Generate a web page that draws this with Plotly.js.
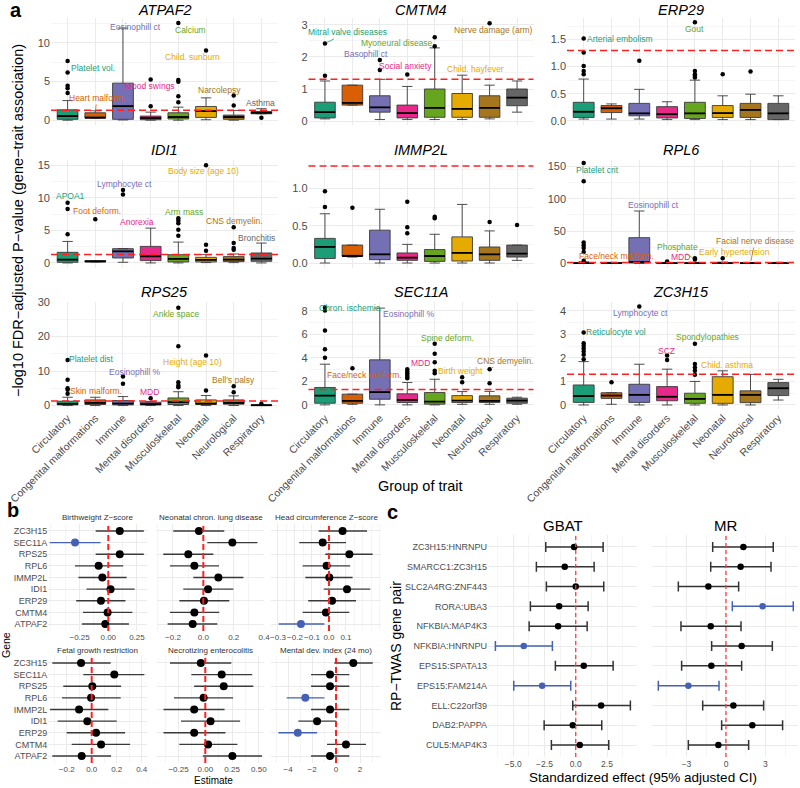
<!DOCTYPE html>
<html><head><meta charset="utf-8">
<script src="https://cdn.plot.ly/plotly-3.0.1.min.js"></script>
<style>body{margin:0;background:#fff}#plot{width:800px;height:788px}</style>
</head><body><div id="plot"></div>
<script>
// ---------------- Panel a data ----------------
const groups = ['Circulatory','Congenital malformations','Immune','Mental disorders','Musculoskeletal','Neonatal','Neurological','Respiratory'];
const groupColors = ['#1B9E77','#D95F02','#7570B3','#E7298A','#66A61E','#E6AB02','#A6761D','#666666'];
const genesA = ['ATPAF2','CMTM4','ERP29','IDI1','IMMP2L','RPL6','RPS25','SEC11A','ZC3H15'];
const boxLo = [
 [0.02,0.3,0.05,0.02,0.02,0.08,0.02,0.85],
 [0.07,0.5,0.05,0.05,0.05,0.05,0.07,0.28],
 [0.03,0.03,0.03,0.02,0.02,0.02,0.02,0.02],
 [0,0.15,0.1,0,0,0.05,0.05,0],
 [0,0.08,0,0,0,0,0,0.036],
 [0,0,0,0,0,0,0,0],
 [0,0,0,0,0,0,0,0],
 [0,0.05,0,0,0,0.05,0.05,0.05],
 [0,0.03,0,0,0,0,0,0.21]
];
const boxQ1 = [
 [0.13,0.3,0.13,0.08,0.17,0.38,0.13,0.85],
 [0.1,0.5,0.28,0.1,0.12,0.12,0.12,0.48],
 [0.06,0.15,0.09,0.05,0.04,0.06,0.06,0.02],
 [0.1,0.15,0.76,0.36,0.15,0.15,0.2,0.25],
 [0.06,0.09,0.045,0.036,0.022,0.027,0.036,0.08],
 [0.05,0.1,1.0,0.05,0.05,0.1,0.05,0.1],
 [0.2,0.3,0.2,0.2,0.3,0.3,0.39,0.0],
 [0.14,0.14,0.48,0.2,0.06,0.2,0.2,0.14],
 [0.11,0.28,0.11,0.18,0.07,0.07,0.1,0.4]
];
const boxMed = [
 [0.55,0.34,1.83,0.3,0.43,1.19,0.43,0.98],
 [0.28,0.57,0.43,0.25,0.41,0.38,0.41,0.73],
 [0.165,0.23,0.135,0.12,0.135,0.14,0.2,0.135],
 [0.5,0.25,1.78,1.02,0.61,0.46,0.5,0.66],
 [0.215,0.094,0.117,0.072,0.094,0.135,0.117,0.126],
 [0.3,0.3,1.6,0.2,0.2,0.3,0.2,0.3],
 [0.5,0.77,0.58,0.39,0.97,0.58,0.77,0.1],
 [0.79,0.34,1.08,0.43,0.28,0.37,0.34,0.37],
 [0.38,0.4,0.43,0.35,0.26,0.43,0.43,0.71]
];
const boxQ3 = [
 [1.36,0.98,4.8,0.55,0.98,1.79,0.68,1.15],
 [0.59,1.12,0.79,0.5,1.0,0.86,0.79,1.0],
 [0.34,0.28,0.32,0.26,0.34,0.28,0.32,0.32],
 [1.63,0.36,2.19,2.54,1.27,0.86,0.97,1.53],
 [0.33,0.24,0.44,0.135,0.18,0.35,0.215,0.24],
 [1.0,0.8,39.7,0.6,0.6,0.8,0.6,0.8],
 [1.26,1.64,1.45,0.97,2.2,1.64,1.64,0.2],
 [1.48,0.91,3.83,0.94,1.05,0.79,0.77,0.57],
 [0.85,0.52,0.88,0.78,0.5,1.2,0.6,0.95]
];
const boxHi = [
 [2.55,1.23,11.9,1.06,1.7,2.9,1.28,1.5],
 [1.25,1.12,1.3,1.08,2.28,1.43,1.12,1.25],
 [0.77,0.31,0.58,0.35,0.75,0.46,0.49,0.46],
 [3.3,0.36,2.19,5.34,3.2,1.27,1.37,3.05],
 [0.66,0.24,0.72,0.25,0.385,0.785,0.43,0.24],
 [2.5,1.5,81,1.3,1.5,1.8,1.2,1.5],
 [2.4,2.4,2.6,1.2,4.0,2.9,2.8,0.25],
 [3.46,0.91,8.23,1.9,2.18,1.13,1.15,0.65],
 [1.84,0.52,1.73,1.52,1.0,1.45,1.3,1.09]
];
// outliers: [group index, value]
const outliers = [
 [[0,7.66],[0,6.17],[0,4.47],[0,4.13],[0,3.53],[3,1.83],[3,5.28],[4,2.34],[4,3.1],[4,4.98],[4,5.19],[4,12.55],[5,9.0],[6,1.9],[6,3.2],[7,0.34]],
 [[0,1.41],[0,2.42],[2,1.59],[2,1.9],[3,1.45],[4,2.33],[4,2.61],[6,3.05]],
 [[0,0.86],[0,0.92],[0,1.01],[0,1.26],[0,1.52],[2,1.11],[4,0.8],[4,0.83],[4,0.86],[4,0.92],[4,1.82],[5,0.86],[6,0.91]],
 [[0,4.42],[0,8.29],[0,9.25],[1,6.71],[2,10.5],[2,11.2],[4,4.17],[4,5.08],[4,6.1],[4,6.46],[4,6.86],[5,1.88],[5,2.8],[5,15.0],[6,2.03],[6,2.29],[6,3.05],[6,5.49]],
 [[0,0.75],[0,0.96],[1,0.74],[3,0.4],[3,0.48],[3,0.82],[4,0.6],[4,0.62],[6,0.55],[7,0.51]],
 [[0,4],[0,17.5],[0,23.8],[0,28],[0,32.3],[0,127.2],[0,155.3],[3,2.6],[4,5.8],[4,8],[5,8]],
 [[0,3.4],[0,4.6],[0,5.0],[0,7.5],[0,13.2],[2,6.3],[2,8.4],[3,2.1],[4,5.3],[4,5.8],[4,6.76],[4,17.2],[4,28.3],[5,4.35],[5,14.5],[6,3.86],[6,5.6],[7,0.5]],
 [[0,4.0],[0,4.74],[0,6.33],[0,8.03],[0,8.28],[1,3.12],[3,2.27],[3,2.4],[3,2.55],[3,2.7],[3,2.84],[3,3.04],[4,2.7],[4,2.9],[4,3.63],[4,4.34],[4,5.19],[5,1.93],[5,2.35],[6,1.84],[6,3.04]],
 [[0,1.94],[0,2.13],[0,2.27],[0,2.4],[0,2.51],[0,2.62],[0,3.08],[1,0.96],[2,4.18],[3,1.91],[3,2.1],[4,1.28],[4,1.45],[4,1.59],[4,1.74],[4,2.6]]
];
// trait labels: [text, group, labelX, labelY, (pointX, pointY for leader)]
const traitLabels = [
 [['Platelet vol.',0,0.9,6.7],['Heart malform.',1,1.06,2.9,1,1.05],['Eosinophill ct',2,2.45,12.1],['Mood swings',3,2.97,4.45],['Calcium',4,4.44,11.7],['Child. sunburn',5,4.51,8.2],['Narcolepsy',6,5.5,3.96],['Asthma',7,6.98,2.25]],
 [['Mitral valve diseases',0,0.81,2.76,0,2.42],['Basophill ct',2,1.51,2.1],['Social anxiety',3,2.95,1.72],['Myoneural disease',4,2.62,2.44],['Child. hayfever',5,5.49,1.61],['Nerve damage (arm)',6,6.14,2.85]],
 [['Arterial embolism',0,1.29,1.52],['Gout',4,4.0,1.7]],
 [['APOA1',0,0.1,10.2],['Foot deform.',1,1.07,8.0],['Lymphocyte ct',2,2.07,12.05],['Anorexia',3,2.52,6.25],['Arm mass',4,4.21,7.78],['Body size (age 10)',5,4.92,14.1],['CNS demyelin.',6,6.04,6.46],['Bronchitis',7,6.83,3.9]],
 [],
 [['Platelet crit',0,0.49,144.7],['Face/neck malform.',1,1.19,11.1],['Eosinophill ct',2,2.5,90.6],['MDD',3,3.49,9.5],['Phosphate',4,3.38,25.4,4,5.8],['Early hypertension',5,5.44,17.5],['Facial nerve disease',6,6.16,34.4,6,0.6]],
 [['Platelet dist',0,0.87,13.5],['Skin malform.',1,1.03,4.35],['Eosinophill %',2,2.43,9.85],['MDD',3,2.97,3.86],['Ankle space',4,3.95,26.6],['Height (age 10)',5,4.52,12.56],["Bell's palsy",6,6.0,7.44]],
 [['Chron. ischemia',0,0.93,8.28],['Face/neck malform.',1,1.45,2.55],['Eosinophill %',2,3.06,7.72],['MDD',3,3.47,3.55],['Spine deform.',4,4.46,5.67],['Birth weight',5,4.93,2.84],['CNS demyelin.',6,6.57,3.77,6,3.04]],
 [['Reticulocyte vol',0,1.17,3.08],['Lymphocyte ct',2,2.03,3.9],['SCZ',3,2.99,2.3],['Spondylopathies',4,4.46,2.87],['Child. asthma',5,5.17,1.7]]
];
const fdrThreshold = 1.3;

// ---------------- Panel b data ----------------
const genesB = ['ATPAF2','CMTM4','ERP29','IDI1','IMMP2L','RPL6','RPS25','SEC11A','ZC3H15'];
const outcomesB = ['Birthweight Z\u2212score','Neonatal chron. lung disease','Head circumference Z\u2212score','Fetal growth restriction','Necrotizing enterocolitis','Mental dev. index (24 mo)'];
const estB = [
 [-0.026,-0.006,-0.064,0.02,-0.052,-0.084,0.10,-0.29,0.10],
 [-0.07,-0.059,0.004,0.031,0.099,-0.059,-0.099,0.191,-0.029],
 [-0.165,-0.018,0.018,0.106,0.002,-0.014,0.12,-0.037,0.08],
 [-0.08,0.075,0.035,-0.035,-0.101,-0.005,0.005,0.181,-0.085],
 [0.253,0.026,-0.104,0.049,-0.104,-0.016,0.172,0.153,-0.042],
 [-0.5,0.83,-3.19,-1.58,-0.5,-2.56,-0.5,-0.5,1.44]
];
const loB = [
 [-0.23,-0.22,-0.28,-0.19,-0.26,-0.29,-0.11,-0.51,-0.11],
 [-0.235,-0.22,-0.158,-0.132,-0.066,-0.22,-0.264,0.026,-0.198],
 [-0.296,-0.155,-0.122,-0.031,-0.139,-0.155,-0.022,-0.175,-0.061],
 [-0.315,-0.16,-0.2,-0.272,-0.333,-0.237,-0.227,-0.067,-0.315],
 [-0.023,-0.243,-0.39,-0.227,-0.39,-0.292,-0.104,-0.13,-0.33],
 [-2.08,-0.75,-4.8,-3.14,-2.08,-4.11,-2.08,-2.08,-0.14]
];
const hiB = [
 [0.18,0.21,0.15,0.23,0.16,0.13,0.31,-0.067,0.31],
 [0.092,0.105,0.171,0.198,0.264,0.103,0.066,0.356,0.138],
 [-0.027,0.12,0.159,0.243,0.139,0.125,0.257,0.1,0.224],
 [0.155,0.307,0.267,0.2,0.133,0.232,0.235,0.421,0.152],
 [0.53,0.3,0.188,0.325,0.18,0.26,0.448,0.438,0.243],
 [1.11,2.5,-1.58,0,1.11,-0.97,1.11,1.11,3.06]
];
const sigB = [
 [0,0,0,0,0,0,0,1,0],
 [0,0,0,0,0,0,0,0,0],
 [1,0,0,0,0,0,0,0,0],
 [0,0,0,0,0,0,0,0,0],
 [0,0,0,0,0,0,0,0,0],
 [0,0,1,0,0,1,0,0,0]
];

// ---------------- Panel c data ----------------
const pairsC = ['ZC3H15:HNRNPU','SMARCC1:ZC3H15','SLC2A4RG:ZNF443','RORA:UBA3','NFKBIA:MAP4K3','NFKBIA:HNRNPU','EPS15:SPATA13','EPS15:FAM214A','ELL:C22orf39','DAB2:PAPPA','CUL5:MAP4K3'];
const methodsC = ['GBAT','MR'];
const estC = [
 [-0.13,-0.88,0,-1.33,-1.41,-4.16,0.64,-2.69,2.03,-0.24,0.32],
 [1.32,1.11,-1.34,2.78,-1.16,1.19,-1.11,-2.86,0.56,2.0,-0.58]
];
const loC = [
 [-2.4,-3.15,-2.35,-3.63,-3.73,-6.43,-1.63,-4.96,-0.24,-2.53,-1.95],
 [-1.01,-1.16,-3.62,0.48,-3.42,-1.09,-3.37,-5.14,-1.77,-0.33,-2.86]
];
const hiC = [
 [2.19,1.47,2.24,0.99,0.91,-1.87,2.99,-0.4,4.37,2.08,2.64],
 [3.59,3.42,0.96,5.11,1.14,3.52,1.19,-0.53,2.86,4.3,1.72]
];
const sigC = [
 [0,0,0,0,0,1,0,1,0,0,0],
 [0,0,0,1,0,0,0,1,0,0,0]
];

// ---------------- Build ----------------
const W = 800, H = 788;
const fx = p => p / W, fy = p => 1 - p / H;
const FONT = 'Liberation Sans, Arial, Helvetica, sans-serif';
const TICK = '#4d4d4d';
const GRID = '#ebebeb', MINOR = '#f5f5f5';
const BLUE = '#4461B5';
const BOXW = 0.75;
const data = [];
const layout = {
  width: W, height: H, margin: {l:0, r:0, t:0, b:0}, showlegend: false,
  paper_bgcolor: '#fff', plot_bgcolor: '#fff', font: {family: FONT, color: '#000'},
  annotations: [], shapes: []
};
const ax = n => (n === 1 ? '' : String(n));
function note(x, y, text, size, opts) {
  layout.annotations.push(Object.assign({xref:'paper', yref:'paper', x: fx(x), y: fy(y), text, showarrow:false,
    font:{family:FONT, size, color:'#000'}, xanchor:'center', yanchor:'middle'}, opts || {}));
}

// Panel a layout
const aCols = [[51,278],[308.5,533.5],[567,795]];
const aRows = [[18,125],[160,267.5],[302,409]];
const aTitleY = [10, 150, 292];
const aYRange = [[-0.6,13.2],[-0.12,3.21],[-0.08,1.9],[-0.7,15.8],[-0.06,1.38],[-6.5,160],[-1,30],[-0.35,8.75],[-0.17,4.37]];
const aDtick = [5,1,0.5,5,0.5,50,10,2,1];
const aFmt = ['d','d','.1f','d','.1f','d','d','d','d'];

genesA.forEach((gene, g) => {
  const n = g + 1, row = Math.floor(g / 3), col = g % 3;
  const [c0, c1] = aCols[col], [r0, r1] = aRows[row];
  layout['xaxis' + ax(n)] = {
    domain: [fx(c0), fx(c1)], anchor: 'y' + ax(n), range: [-0.6, 7.6],
    tickvals: groups.map((_, i) => i), ticktext: groups, showticklabels: row === 2,
    tickangle: -45, tickfont: {size: 10.5, color: TICK}, showgrid: true, gridcolor: GRID,
    zeroline: false, ticks: '', showline: false
  };
  layout['yaxis' + ax(n)] = {
    domain: [fy(r1), fy(r0)], anchor: 'x' + ax(n), range: aYRange[g], dtick: aDtick[g], tick0: 0,
    tickformat: aFmt[g], tickfont: {size: 11, color: TICK}, gridcolor: GRID, zeroline: false, ticks: '',
    minor: {showgrid: true, gridcolor: MINOR, dtick: aDtick[g] / 2, tick0: 0}
  };
  note((c0 + c1) / 2, aTitleY[row], '<i>' + gene + '</i>', 14.5);
  groups.forEach((grp, i) => {
    data.push({type: 'box', xaxis: 'x' + ax(n), yaxis: 'y' + ax(n), x: [i],
      q1: [boxQ1[g][i]], median: [boxMed[g][i]], q3: [boxQ3[g][i]],
      lowerfence: [boxLo[g][i]], upperfence: [boxHi[g][i]],
      width: BOXW, fillcolor: groupColors[i], line: {color: '#3a3a3a', width: 0.9},
      boxpoints: false, hoverinfo: 'skip'});
  });
  // thicker black median bars, placed from the median values
  const mx = [], my = [];
  groups.forEach((grp, i) => { mx.push(i - BOXW / 2, i + BOXW / 2, null); my.push(boxMed[g][i], boxMed[g][i], null); });
  data.push({type: 'scatter', mode: 'lines', xaxis: 'x' + ax(n), yaxis: 'y' + ax(n), x: mx, y: my,
    line: {color: '#000', width: 1.8}, hoverinfo: 'skip'});
  data.push({type: 'scatter', mode: 'markers', xaxis: 'x' + ax(n), yaxis: 'y' + ax(n),
    x: outliers[g].map(o => o[0]), y: outliers[g].map(o => o[1]),
    marker: {color: '#000', size: 4.5}, hoverinfo: 'skip', cliponaxis: false});
  layout.shapes.push({type: 'line', xref: 'x' + ax(n) + ' domain', x0: 0, x1: 1,
    yref: 'y' + ax(n), y0: fdrThreshold, y1: fdrThreshold, line: {color: '#ff2020', width: 1.5, dash: '7px,4px'}});
  traitLabels[g].forEach(l => {
    const a = {xref: 'x' + ax(n), yref: 'y' + ax(n), text: l[0], showarrow: false,
      font: {family: FONT, size: 8.5, color: groupColors[l[1]]}, x: l[2], y: l[3], xanchor: 'center', yanchor: 'middle'};
    if (l.length > 4) {
      Object.assign(a, {showarrow: true, x: l[4], y: l[5], ax: l[2], ay: l[3], axref: 'x' + ax(n), ayref: 'y' + ax(n),
        arrowhead: 0, arrowwidth: 0.8, arrowcolor: groupColors[l[1]], standoff: 2});
    }
    layout.annotations.push(a);
  });
});
note(8, 10, '<b>a</b>', 20, {xanchor: 'left'});
note(18, 221, '\u2212log10 FDR\u2212adjusted P\u2212value (gene\u2212trait association)', 14.5, {textangle: -90});
note(420, 486, 'Group of trait', 14.5);

// Panel b
const bCols = [[48.3,146.7],[156.7,264.4],[271,381]];
const bRows = [[524,631],[656,763]];
const bTitleY = [517, 650];
const bXRange = [[-0.523,0.335],[-0.307,0.402],[-0.341,0.306],[-0.347,0.44],[-0.454,0.552],[-5.42,3.75]];
const bTicks = [[-0.25,0,0.25],[-0.2,0,0.2,0.4],[-0.3,-0.2,-0.1,0,0.1],[-0.2,0,0.2,0.4],[-0.25,0,0.25,0.5],[-4,-2,0,2]];
const bMinor = [0.125,0.1,0.05,0.1,0.125,1];
const bFmt = ['.2f','.1f','.1f','.1f','.2f','d'];
outcomesB.forEach((oc, k) => {
  const n = 10 + k, row = Math.floor(k / 3), col = k % 3;
  const [c0, c1] = bCols[col], [r0, r1] = bRows[row];
  layout['xaxis' + n] = {domain: [fx(c0), fx(c1)], anchor: 'y' + n, range: bXRange[k], tickvals: bTicks[k],
    tickformat: bFmt[k], tickangle: 0, tickfont: {size: 8, color: TICK}, gridcolor: GRID, zeroline: false, ticks: '',
    minor: {showgrid: true, gridcolor: MINOR, dtick: bMinor[k], tick0: 0}};
  layout['yaxis' + n] = {domain: [fy(r1), fy(r0)], anchor: 'x' + n, type: 'category', categoryorder: 'array',
    categoryarray: genesB, range: [-0.6, 8.6], showticklabels: col === 0, tickfont: {size: 9, color: TICK},
    gridcolor: GRID, zeroline: false, ticks: ''};
  note((c0 + c1) / 2, bTitleY[row], oc, 8, {font: {family: FONT, size: 8, color: '#333'}});
  layout.shapes.push({type: 'line', xref: 'x' + n, x0: 0, x1: 0, yref: 'y' + n + ' domain', y0: 0, y1: 1,
    line: {color: '#ff2020', width: 2, dash: '6px,3px'}});
  [0, 1].forEach(s => {
    const idx = genesB.map((_, i) => i).filter(i => sigB[k][i] === s);
    if (!idx.length) return;
    const col2 = s ? BLUE : '#3a3a3a';
    data.push({type: 'scatter', mode: 'markers', xaxis: 'x' + n, yaxis: 'y' + n,
      x: idx.map(i => estB[k][i]), y: idx.map(i => genesB[i]),
      error_x: {type: 'data', symmetric: false, array: idx.map(i => hiB[k][i] - estB[k][i]),
        arrayminus: idx.map(i => estB[k][i] - loB[k][i]), width: 0, thickness: 1.3, color: col2},
      marker: {color: s ? BLUE : '#000', size: 8}, hoverinfo: 'skip', cliponaxis: false});
  });
});
note(5, 510, '<b>b</b>', 20, {xanchor: 'left'});
note(6, 645, 'Gene', 10.5, {textangle: -90});
note(213, 780, 'Estimate', 10);

// Panel c
const cCols = [[488,637],[652,798]];
const cRow = [535,757];
const cXRange = [[-7.02,4.9],[-5.62,5.47]];
const cTicks = [[-5,-2.5,0,2.5],[-3,0,3]];
const cFmt = ['.1f','d'];
const cMinor = [1.25,1.5];
methodsC.forEach((m, k) => {
  const n = 16 + k, [c0, c1] = cCols[k];
  layout['xaxis' + n] = {domain: [fx(c0), fx(c1)], anchor: 'y' + n, range: cXRange[k], tickvals: cTicks[k],
    tickformat: cFmt[k], tickangle: 0, tickfont: {size: 8.5, color: TICK}, gridcolor: GRID, zeroline: false, ticks: '',
    minor: {showgrid: true, gridcolor: MINOR, dtick: cMinor[k], tick0: 0}};
  layout['yaxis' + n] = {domain: [fy(cRow[1]), fy(cRow[0])], anchor: 'x' + n, type: 'category', categoryorder: 'array',
    categoryarray: pairsC.slice().reverse(), range: [-0.6, 10.6], showticklabels: k === 0,
    tickfont: {size: 9, color: TICK}, gridcolor: GRID, zeroline: false, ticks: ''};
  note((c0 + c1) / 2, 525, m, 15);
  layout.shapes.push({type: 'line', xref: 'x' + n, x0: 0, x1: 0, yref: 'y' + n + ' domain', y0: 0, y1: 1,
    line: {color: '#ff3b3b', width: 1.3, dash: '4px,3px'}});
  [0, 1].forEach(s => {
    const idx = pairsC.map((_, i) => i).filter(i => sigC[k][i] === s);
    if (!idx.length) return;
    const col2 = s ? BLUE : '#333333';
    data.push({type: 'scatter', mode: 'markers', xaxis: 'x' + n, yaxis: 'y' + n,
      x: idx.map(i => estC[k][i]), y: idx.map(i => pairsC[i]),
      error_x: {type: 'data', symmetric: false, array: idx.map(i => hiC[k][i] - estC[k][i]),
        arrayminus: idx.map(i => estC[k][i] - loC[k][i]), width: 5, thickness: 1.5, color: col2},
      marker: {color: s ? BLUE : '#000', size: 6.5}, hoverinfo: 'skip', cliponaxis: false});
  });
});
note(392, 512, '<b>c</b>', 20);
note(396, 646, 'RP\u2212TWAS gene pair', 14, {textangle: -90});
note(643, 777, 'Standardized effect (95% adjusted CI)', 13.5);

Plotly.newPlot('plot', data, layout, {staticPlot: true, displayModeBar: false});
</script>
</body></html>
